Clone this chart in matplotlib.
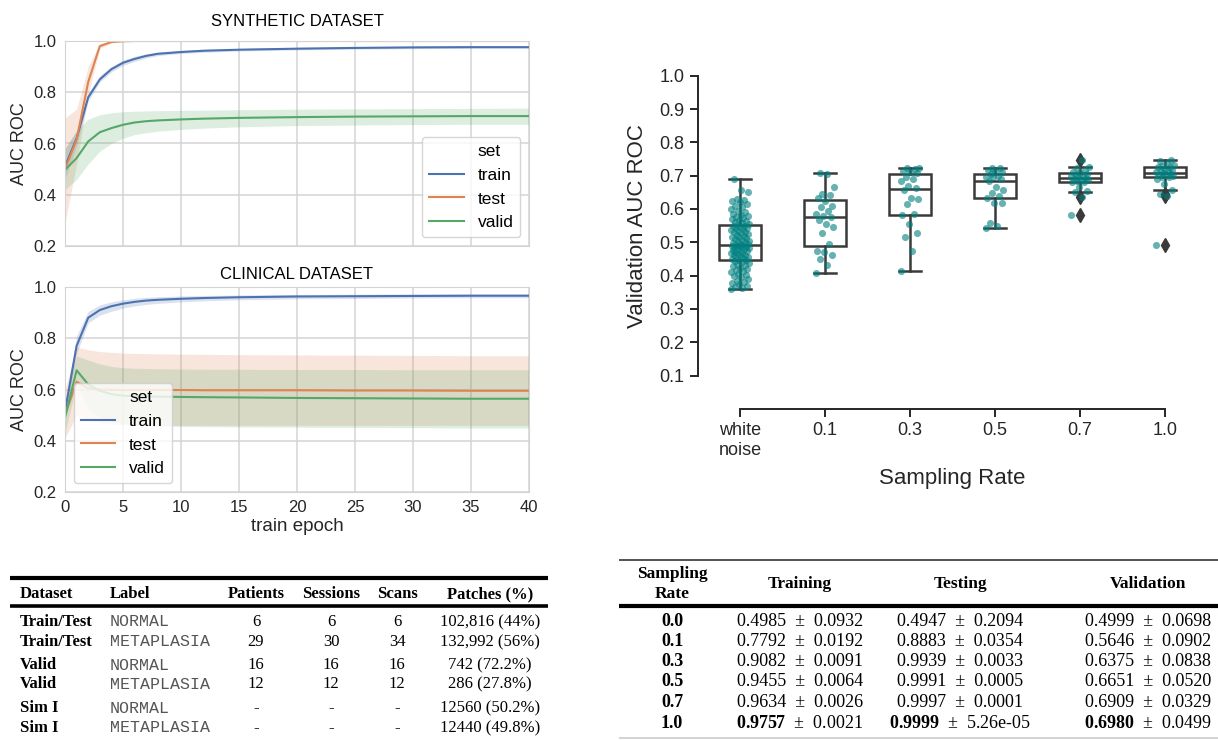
import matplotlib
matplotlib.use('Agg')
import matplotlib.pyplot as plt
from matplotlib.lines import Line2D
import numpy as np

plt.rcParams['font.family'] = ['Liberation Sans', 'DejaVu Sans']
plt.rcParams['mathtext.fontset'] = 'custom'
plt.rcParams['mathtext.rm'] = 'Liberation Serif'
plt.rcParams['mathtext.bf'] = 'Liberation Serif:bold'

W, H = 1218, 740
INK = '#262626'
BLUE, ORANGE, GREEN = '#4C72B0', '#DD8452', '#55A868'

# ---- learning curves (mean, lower, upper of the band) ----
epochs = [0, 1, 2, 3, 4, 5, 6, 7, 8, 10, 12, 15, 20, 25, 30, 35, 40]

syn_train = [0.51, 0.62, 0.78, 0.85, 0.89, 0.915, 0.93, 0.942, 0.95, 0.957, 0.962, 0.966, 0.970, 0.973, 0.975, 0.976, 0.976]
syn_train_lo = [0.46, 0.59, 0.765, 0.84, 0.88, 0.905, 0.92, 0.934, 0.943, 0.951, 0.956, 0.961, 0.965, 0.968, 0.970, 0.971, 0.971]
syn_train_hi = [0.58, 0.65, 0.795, 0.865, 0.90, 0.925, 0.94, 0.95, 0.957, 0.963, 0.968, 0.971, 0.975, 0.978, 0.980, 0.981, 0.981]
syn_test = [0.50, 0.615, 0.84, 0.98, 0.996, 0.999, 1.0, 1.0, 1.0, 1.0, 1.0, 1.0, 1.0, 1.0, 1.0, 1.0, 1.0]
syn_test_lo = [0.29, 0.52, 0.79, 0.97, 0.993, 0.998, 0.998, 0.998, 0.998, 0.998, 0.998, 0.998, 0.998, 0.998, 0.998, 0.998, 0.998]
syn_test_hi = [0.70, 0.735, 0.90, 0.99, 0.998, 1.0, 1.0, 1.0, 1.0, 1.0, 1.0, 1.0, 1.0, 1.0, 1.0, 1.0, 1.0]
syn_valid = [0.497, 0.543, 0.608, 0.644, 0.66, 0.673, 0.682, 0.687, 0.690, 0.694, 0.697, 0.700, 0.703, 0.705, 0.706, 0.707, 0.707]
syn_valid_lo = [0.42, 0.46, 0.52, 0.57, 0.60, 0.62, 0.635, 0.642, 0.648, 0.655, 0.66, 0.665, 0.67, 0.672, 0.674, 0.675, 0.675]
syn_valid_hi = [0.58, 0.65, 0.695, 0.712, 0.72, 0.724, 0.726, 0.727, 0.728, 0.729, 0.730, 0.732, 0.734, 0.735, 0.736, 0.737, 0.738]

cli_train = [0.515, 0.77, 0.88, 0.91, 0.925, 0.935, 0.942, 0.947, 0.95, 0.954, 0.957, 0.96, 0.963, 0.964, 0.965, 0.966, 0.966]
cli_train_lo = [0.49, 0.74, 0.86, 0.89, 0.905, 0.918, 0.926, 0.932, 0.936, 0.942, 0.946, 0.95, 0.954, 0.955, 0.957, 0.958, 0.958]
cli_train_hi = [0.54, 0.81, 0.905, 0.93, 0.942, 0.95, 0.956, 0.96, 0.962, 0.965, 0.967, 0.969, 0.971, 0.972, 0.973, 0.973, 0.973]
cli_test = [0.50, 0.63, 0.605, 0.60, 0.599, 0.598, 0.598, 0.598, 0.598, 0.598, 0.597, 0.597, 0.597, 0.596, 0.596, 0.595, 0.595]
cli_test_lo = [0.41, 0.50, 0.48, 0.47, 0.465, 0.463, 0.462, 0.462, 0.461, 0.46, 0.46, 0.46, 0.46, 0.46, 0.46, 0.46, 0.46]
cli_test_hi = [0.60, 0.765, 0.755, 0.748, 0.745, 0.742, 0.741, 0.740, 0.739, 0.738, 0.737, 0.736, 0.735, 0.734, 0.733, 0.732, 0.732]
cli_valid = [0.49, 0.675, 0.62, 0.595, 0.582, 0.576, 0.574, 0.573, 0.572, 0.571, 0.570, 0.569, 0.567, 0.566, 0.565, 0.564, 0.564]
cli_valid_lo = [0.43, 0.62, 0.52, 0.49, 0.475, 0.468, 0.462, 0.46, 0.458, 0.456, 0.455, 0.454, 0.453, 0.452, 0.451, 0.45, 0.45]
cli_valid_hi = [0.55, 0.73, 0.715, 0.70, 0.69, 0.685, 0.683, 0.682, 0.681, 0.68, 0.679, 0.679, 0.678, 0.678, 0.677, 0.677, 0.677]

# ---- validation AUC per sampling rate ----
rate_labels = ['white\nnoise', '0.1', '0.3', '0.5', '0.7', '1.0']
auc_white = [0.360, 0.362, 0.365, 0.370, 0.374, 0.378, 0.382, 0.385, 0.390, 0.395,
             0.398, 0.402, 0.405, 0.410, 0.413, 0.417, 0.420, 0.424, 0.428, 0.431,
             0.434, 0.437, 0.440, 0.443, 0.446, 0.448, 0.450, 0.452, 0.455, 0.457,
             0.459, 0.461, 0.463, 0.465, 0.467, 0.469, 0.471, 0.473, 0.475, 0.477,
             0.479, 0.481, 0.483, 0.485, 0.486, 0.487, 0.488, 0.490, 0.491, 0.492,
             0.494, 0.496, 0.498, 0.500, 0.503, 0.505, 0.507, 0.510, 0.512, 0.515,
             0.517, 0.520, 0.522, 0.525, 0.527, 0.530, 0.532, 0.535, 0.537, 0.540,
             0.542, 0.544, 0.546, 0.548, 0.550, 0.552, 0.555, 0.558, 0.561, 0.564,
             0.567, 0.570, 0.573, 0.576, 0.579, 0.582, 0.586, 0.590, 0.595, 0.600,
             0.605, 0.610, 0.615, 0.620, 0.623, 0.626, 0.630, 0.652, 0.658, 0.691]
auc_01 = [0.407, 0.433, 0.450, 0.462, 0.470, 0.473, 0.495, 0.527, 0.545, 0.556, 0.566, 0.575,
          0.579, 0.585, 0.595, 0.605, 0.610, 0.625, 0.634, 0.642, 0.645, 0.665, 0.706, 0.708]
auc_03 = [0.415, 0.473, 0.515, 0.528, 0.554, 0.581, 0.584, 0.614, 0.629, 0.632, 0.658,
          0.662, 0.668, 0.683, 0.690, 0.695, 0.707, 0.710, 0.713, 0.720, 0.723, 0.724]
auc_05 = [0.542, 0.548, 0.558, 0.617, 0.619, 0.632, 0.640, 0.648, 0.656, 0.665, 0.683,
          0.690, 0.695, 0.697, 0.700, 0.705, 0.710, 0.713, 0.718, 0.722, 0.724]
auc_07 = [0.583, 0.637, 0.651, 0.655, 0.665, 0.680, 0.682, 0.684, 0.686, 0.688, 0.690, 0.694,
          0.696, 0.698, 0.700, 0.703, 0.705, 0.708, 0.712, 0.718, 0.722, 0.727, 0.748]
auc_10 = [0.491, 0.640, 0.645, 0.658, 0.675, 0.690, 0.695, 0.697, 0.699, 0.701, 0.703, 0.706, 0.709,
          0.711, 0.713, 0.715, 0.718, 0.721, 0.725, 0.727, 0.729, 0.733, 0.738, 0.745, 0.748]

# ---- table 1: dataset summary ----
t1_header = ['Dataset', 'Label', 'Patients', 'Sessions', 'Scans', 'Patches (%)']
t1_dataset = ['Train/Test', 'Train/Test', 'Valid', 'Valid', 'Sim I', 'Sim I']
t1_label = ['NORMAL', 'METAPLASIA', 'NORMAL', 'METAPLASIA', 'NORMAL', 'METAPLASIA']
t1_patients = ['6', '29', '16', '12', '-', '-']
t1_sessions = ['6', '30', '16', '12', '-', '-']
t1_scans = ['6', '34', '16', '12', '-', '-']
t1_patches = ['102,816 (44%)', '132,992 (56%)', '742 (72.2%)', '286 (27.8%)', '12560 (50.2%)', '12440 (49.8%)']

# ---- table 2: AUC per sampling rate ----
t2_header = ['Sampling\nRate', 'Training', 'Testing', 'Validation']
t2_rate = ['0.0', '0.1', '0.3', '0.5', '0.7', '1.0']
t2_train_mean = ['0.4985', '0.7792', '0.9082', '0.9455', '0.9634', '0.9757']
t2_train_std = ['0.0932', '0.0192', '0.0091', '0.0064', '0.0026', '0.0021']
t2_test_mean = ['0.4947', '0.8883', '0.9939', '0.9991', '0.9997', '0.9999']
t2_test_std = ['0.2094', '0.0354', '0.0033', '0.0005', '0.0001', '5.26e-05']
t2_valid_mean = ['0.4999', '0.5646', '0.6375', '0.6651', '0.6909', '0.6980']
t2_valid_std = ['0.0698', '0.0902', '0.0838', '0.0520', '0.0329', '0.0499']


def px_axes(x0, y0, x1, y1):
    return fig.add_axes([x0 / W, 1 - y1 / H, (x1 - x0) / W, (y1 - y0) / H])


def draw_curves(ax, curves, title, pad, legend_loc):
    ax.set_facecolor('white')
    ax.grid(True, color='#d4d4d4', lw=1.1)
    ax.set_axisbelow(True)
    for s in ax.spines.values():
        s.set_color('#d4d4d4')
    handles = [Line2D([], [], linestyle='none', label='set')]
    for name, color, mean, lo, hi in curves:
        ax.fill_between(epochs, lo, hi, color=color, alpha=0.2, linewidth=0)
        line, = ax.plot(epochs, mean, color=color, lw=1.5, label=name)
        handles.append(line)
    ax.set_xlim(0, 40)
    ax.set_ylim(0.2, 1.0)
    ax.set_xticks(range(0, 41, 5))
    ax.set_yticks([0.2, 0.4, 0.6, 0.8, 1.0])
    ax.set_yticklabels(['0.2', '0.4', '0.6', '0.8', '1.0'])
    ax.tick_params(length=0, labelsize=12, labelcolor=INK, pad=6)
    ax.set_ylabel('AUC ROC', fontsize=13, color=INK)
    ax.set_title(title, fontsize=12, color='black', pad=pad)
    ax.legend(handles=handles, loc=legend_loc, fontsize=12.5, handlelength=2.0,
              edgecolor='#cccccc', framealpha=0.8)


fig = plt.figure(figsize=(W / 100, H / 100), dpi=100)

ax1 = px_axes(65, 41, 529, 246)
draw_curves(ax1, [('train', BLUE, syn_train, syn_train_lo, syn_train_hi),
                  ('test', ORANGE, syn_test, syn_test_lo, syn_test_hi),
                  ('valid', GREEN, syn_valid, syn_valid_lo, syn_valid_hi)],
            'SYNTHETIC DATASET', 11, 'lower right')
ax1.set_xticklabels([])

ax2 = px_axes(65, 287, 529, 492)
draw_curves(ax2, [('train', BLUE, cli_train, cli_train_lo, cli_train_hi),
                  ('test', ORANGE, cli_test, cli_test_lo, cli_test_hi),
                  ('valid', GREEN, cli_valid, cli_valid_lo, cli_valid_hi)],
            'CLINICAL DATASET', 6, 'lower left')
ax2.set_xlabel('train epoch', fontsize=13.5, color=INK, labelpad=2)

# ---- box + strip plot ----
ax3 = px_axes(697.5, 75.7, 1207.5, 375.5)
groups = [auc_white, auc_01, auc_03, auc_05, auc_07, auc_10]
dark = '#3a3a3a'
ax3.boxplot(groups, positions=range(len(groups)), widths=0.5, patch_artist=True,
            boxprops=dict(facecolor='white', edgecolor=dark, linewidth=1.8),
            whiskerprops=dict(color=dark, linewidth=1.8),
            capprops=dict(color=dark, linewidth=1.8),
            medianprops=dict(color=dark, linewidth=1.8),
            flierprops=dict(marker='d', markerfacecolor=dark, markeredgecolor=dark, markersize=7))
for i, vals in enumerate(groups):
    jitter = ((np.arange(len(vals)) * 0.618034) % 1 - 0.5) * 0.22
    ax3.scatter(i + jitter, vals, s=26, color='teal', alpha=0.6, linewidths=0, zorder=3)
ax3.set_xlim(-0.5, 5.5)
ax3.set_ylim(0.1, 1.0)
ax3.set_yticks(np.arange(1, 11) / 10)
ax3.set_yticklabels([f'{v / 10:.1f}' for v in range(1, 11)])
ax3.set_xticks(range(6))
ax3.set_xticklabels(rate_labels)
for s in ['top', 'right']:
    ax3.spines[s].set_visible(False)
for s in ['left', 'bottom']:
    ax3.spines[s].set_color(INK)
    ax3.spines[s].set_linewidth(1.4)
ax3.spines['left'].set_bounds(0.1, 1.0)
ax3.spines['bottom'].set_bounds(0, 5)
ax3.spines['bottom'].set_position(('outward', 24))
ax3.tick_params(length=6, width=1.4, color=INK, labelsize=13, labelcolor=INK)
ax3.set_ylabel('Validation AUC ROC', fontsize=16, color=INK, labelpad=8)
ax3.set_xlabel('Sampling Rate', fontsize=16, color=INK, labelpad=7)

# ---- tables drawn in pixel space ----
tab = fig.add_axes([0, 0, 1, 1], zorder=-1)
tab.set_xlim(0, W)
tab.set_ylim(H, 0)
tab.axis('off')

serif = 'Liberation Serif'
mono = 'Liberation Mono'

# table 1
tab.hlines([578], 10, 548, color='black', lw=3)
tab.hlines([605.5], 10, 548, color='black', lw=2.6)
t1_x = [20, 110, 256, 331, 397, 490]
t1_ha = ['left', 'left', 'center', 'center', 'center', 'center']
for x, ha, txt in zip(t1_x, t1_ha, t1_header):
    tab.text(x, 594, txt, ha=ha, va='center', fontsize=12, fontweight='bold', family=serif)
t1_rows_y = [622, 642, 665, 684.5, 708.5, 728]
for k, y in enumerate(t1_rows_y):
    tab.text(t1_x[0], y, t1_dataset[k], ha='left', va='center', fontsize=12,
             fontweight='bold', family=serif)
    tab.text(t1_x[1], y, t1_label[k], ha='left', va='center', fontsize=12,
             family=mono, color='#555555')
    for j, col in enumerate([t1_patients, t1_sessions, t1_scans, t1_patches]):
        tab.text(t1_x[j + 2], y, col[k], ha='center', va='center', fontsize=12, family=serif)

# table 2
tab.hlines([560], 619, W, color='#444444', lw=1.3)
tab.hlines([606], 619, W, color='black', lw=3)
tab.hlines([738], 619, W, color='#cccccc', lw=1.2)
t2_x = [672, 800, 960, 1148]
for x, txt in zip(t2_x, t2_header):
    tab.text(x, 584, txt, ha='center', va='center', fontsize=12.5, fontweight='bold',
             family=serif, linespacing=1.25)
t2_rows_y = [622, 642, 662, 682, 702.5, 723]
last = len(t2_rate) - 1
for k, y in enumerate(t2_rows_y):
    tab.text(t2_x[0], y, t2_rate[k], ha='center', va='center', fontsize=13,
             fontweight='bold', family=serif)
    cols = [(t2_train_mean, t2_train_std), (t2_test_mean, t2_test_std),
            (t2_valid_mean, t2_valid_std)]
    for j, (means, stds) in enumerate(cols):
        mean = means[k]
        if k == last:
            mean = r'$\mathbf{' + mean + '}$'
        tab.text(t2_x[j + 1], y, f'{mean}  ±  {stds[k]}', ha='center', va='center',
                 fontsize=13, family=serif)

fig.savefig('out.png', dpi=100)
